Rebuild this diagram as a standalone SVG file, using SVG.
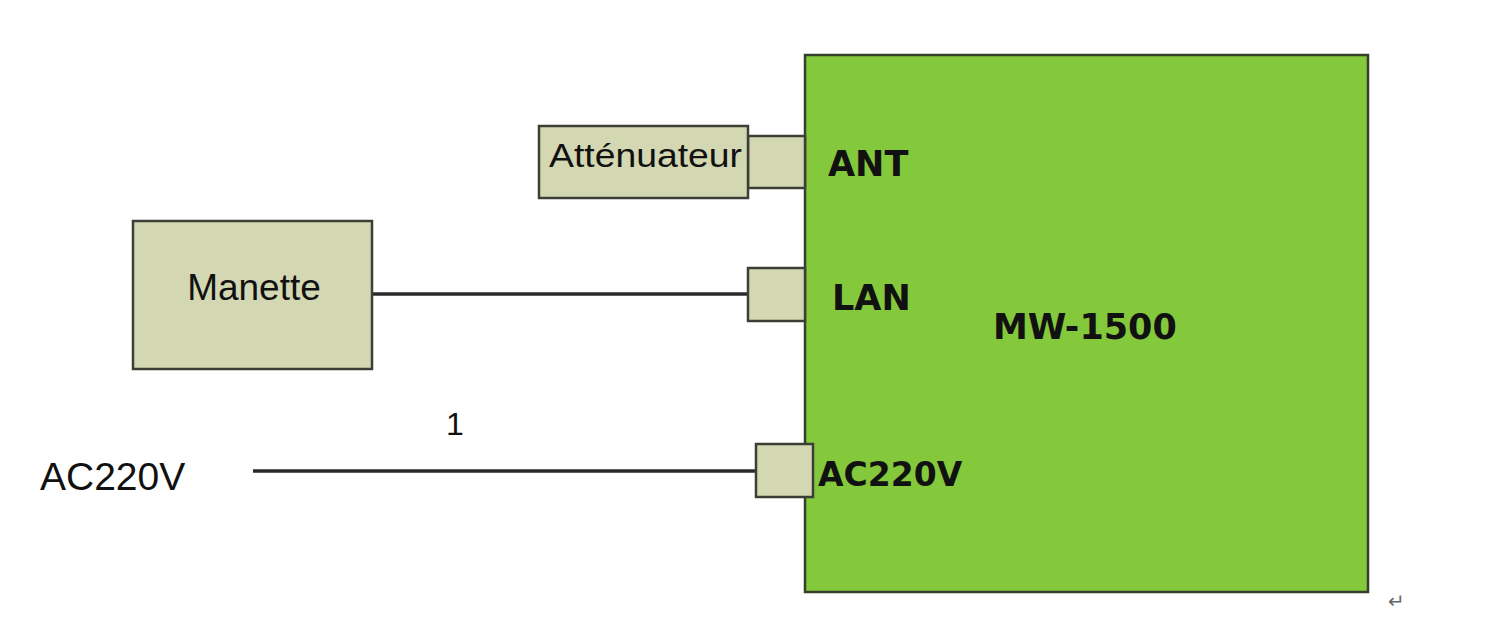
<svg xmlns="http://www.w3.org/2000/svg" width="1500" height="627" viewBox="0 0 1500 627">
<style>
.box{fill:#d4d8b2;stroke:#3c3f35;stroke-width:2.5}
.main{fill:#84c83c;stroke:#34402a;stroke-width:2.5}
.wire{stroke:#2a2a2a;stroke-width:3.5;fill:none}
.lbl{font-family:"Liberation Sans",Arial,sans-serif;fill:#111}
.bold{font-family:"DejaVu Sans",Verdana,sans-serif;font-weight:bold;fill:#111}
</style>
<rect width="1500" height="627" fill="#fff"/>
<g id="connectors">
<line class="wire" x1="372" y1="294" x2="748" y2="294"/>
<line class="wire" x1="253" y1="471" x2="756" y2="471"/>
</g>
<g id="mw1500">
<rect class="main" x="805" y="55" width="563" height="537"/>
<text class="bold" x="993" y="339" font-size="35">MW-1500</text>
</g>
<g id="port-ant">
<rect class="box" x="748" y="136" width="57" height="52"/>
<text class="bold" x="828" y="176" font-size="35">ANT</text>
</g>
<g id="port-lan">
<rect class="box" x="748" y="268" width="57" height="53"/>
<text class="bold" x="832" y="310" font-size="35">LAN</text>
</g>
<g id="port-ac">
<rect class="box" x="756" y="444" width="57" height="53"/>
<text class="bold" x="818" y="486" font-size="33">AC220V</text>
</g>
<g id="attenuateur">
<rect class="box" x="539" y="126" width="209" height="72"/>
<text class="lbl" x="549" y="167" font-size="33" textLength="193" lengthAdjust="spacingAndGlyphs">Atténuateur</text>
</g>
<g id="manette">
<rect class="box" x="133" y="221" width="239" height="148"/>
<text class="lbl" x="254" y="300" font-size="37" text-anchor="middle">Manette</text>
</g>
<g id="ac-source">
<text class="lbl" x="40" y="490" font-size="39">AC220V</text>
<text class="lbl" x="455" y="435" font-size="32" text-anchor="middle">1</text>
</g>
<text x="1388" y="608" font-family="DejaVu Sans,sans-serif" font-size="20" fill="#666">↵</text>
</svg>
